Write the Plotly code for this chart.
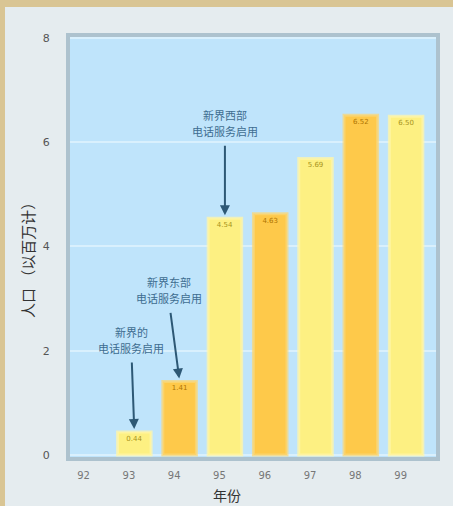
import plotly.graph_objects as go

years = ["92", "93", "94", "95", "96", "97", "98", "99"]
values = [0.0, 0.44, 1.41, 4.54, 4.63, 5.69, 6.52, 6.50]
bar_labels = ["", "0.44", "1.41", "4.54", "4.63", "5.69", "6.52", "6.50"]
note_line1 = ["新界的", "新界东部", "新界西部"]
note_line2 = ["电话服务启用", "电话服务启用", "电话服务启用"]
note_years = [1, 2, 3]
y_ticks = [0, 2, 4, 6, 8]

yellow = "#fdf082"
orange = "#fec94a"
colors = [yellow if i % 2 == 1 else orange for i in range(len(years))]
line_cols = ["rgba(255,246,170,0.75)" if c == yellow else "rgba(250,215,120,0.75)" for c in colors]
line_w = [3 if v > 0 else 0 for v in values]
text_cols = ["#a8941c" if c == yellow else "#b07400" for c in colors]

xs = list(range(len(years)))

fig = go.Figure()
fig.add_trace(go.Bar(
    x=xs, y=values, width=0.74,
    marker=dict(color=colors, line=dict(color=line_cols, width=line_w)),
    text=bar_labels, textposition="inside", insidetextanchor="end",
    textfont=dict(size=7, color=text_cols, family="DejaVu Sans"),
    textangle=0, cliponaxis=False, hoverinfo="skip",
))

note_font = dict(family="Noto Sans CJK SC", size=11, color="#3e6d90")
ann = []
offsets = [(-3, -84), (-11, -83), (0, -87)]
for l1, l2, xi, (ax, ay) in zip(note_line1, note_line2, note_years, offsets):
    ann.append(dict(
        x=xi, y=values[xi], xref="x", yref="y",
        text=l2, showarrow=True,
        ax=ax, ay=ay, arrowhead=2, arrowsize=1, arrowwidth=2,
        arrowcolor="#2d5875", standoff=3, borderpad=6,
        font=note_font,
    ))
    ann.append(dict(
        x=xi, y=values[xi], xref="x", yref="y",
        text=l1, showarrow=False, xanchor="center", yanchor="middle",
        xshift=ax, yshift=-ay + 16, font=note_font,
    ))

W, H = 453, 506
L, R, T, B = 70, 17, 37, 49
pw, ph = W - L - R, H - T - B

ann.append(dict(text="年份", xref="paper", yref="paper", x=(227 - L) / pw, y=-(495 - (H - B)) / ph,
                xanchor="center", yanchor="middle", showarrow=False,
                font=dict(family="Noto Sans CJK SC", size=14, color="#333333")))
ann.append(dict(text="人口 （以百万计）", xref="paper", yref="paper", x=(27 - L) / pw, y=(H - B - 257) / ph,
                xanchor="center", yanchor="middle", showarrow=False, textangle=-90,
                font=dict(family="Noto Sans CJK SC", size=15, color="#333333")))

shapes = [
    dict(type="rect", xref="paper", yref="paper", x0=-L / pw, x1=(W - L) / pw,
         y0=1 + (T - 7) / ph, y1=1 + T / ph, fillcolor="#d9c594", line=dict(width=0), layer="above"),
    dict(type="rect", xref="paper", yref="paper", x0=-L / pw, x1=-(L - 5) / pw,
         y0=-B / ph, y1=1 + T / ph, fillcolor="#d9c594", line=dict(width=0), layer="above"),
]

fig.update_layout(
    width=W, height=H,
    margin=dict(l=L, r=R, t=T, b=B),
    paper_bgcolor="#e5ecef", plot_bgcolor="#bfe4fb",
    showlegend=False,
    annotations=ann, shapes=shapes,
    xaxis=dict(range=[-0.42, 7.66], tickvals=[x - 0.12 for x in xs], ticktext=years,
               showgrid=False, zeroline=False, showline=True, linewidth=4, linecolor="#adc2ce",
               mirror=True, ticks="", ticklabelstandoff=6,
               tickfont=dict(family="DejaVu Sans", size=10, color="#777777")),
    yaxis=dict(range=[-0.04, 8.02], tickvals=y_ticks, ticktext=[str(v) for v in y_ticks],
               showgrid=True, gridcolor="#d9f0fd", gridwidth=2, zeroline=False,
               showline=True, linewidth=4, linecolor="#adc2ce", mirror=True, ticks="",
               ticklabelstandoff=14,
               tickfont=dict(family="DejaVu Sans", size=11, color="#555555")),
)

fig.write_html("out.html", config={"displayModeBar": False},
               post_script="document.body.style.margin='0';document.body.style.overflow='hidden';")
